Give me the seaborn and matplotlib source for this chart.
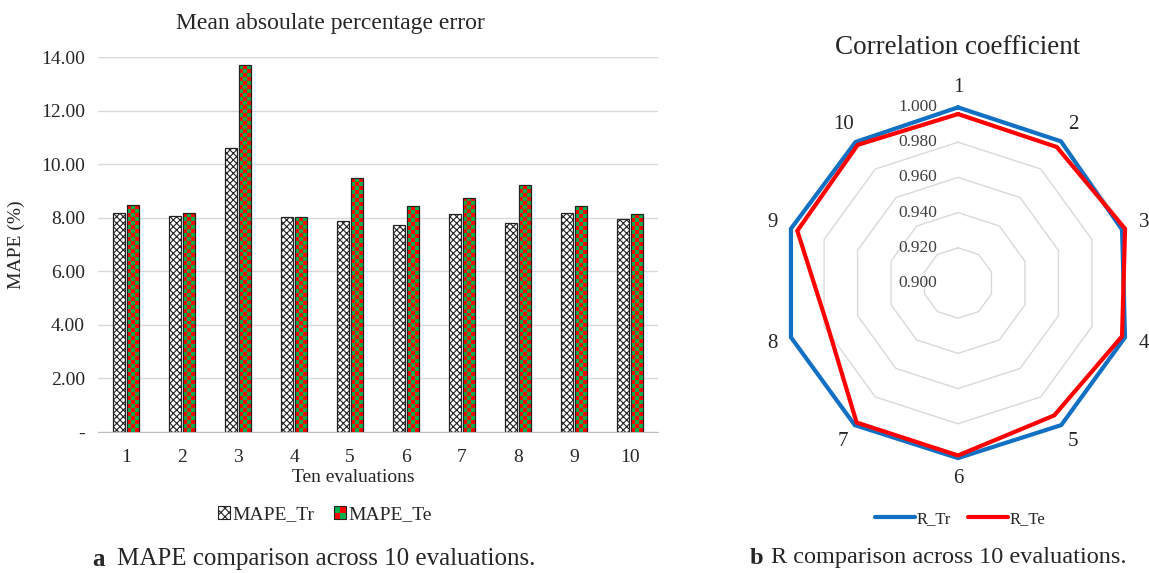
import numpy as np
import pandas as pd
import matplotlib
matplotlib.use("Agg")
import matplotlib.pyplot as plt
import seaborn as sns
from matplotlib.patches import Patch, Rectangle
from matplotlib.legend_handler import HandlerBase
from matplotlib.colors import ListedColormap
from matplotlib.transforms import offset_copy

# ---------------- data ----------------
evaluations = [str(i) for i in range(1, 11)]
mape_tr = [8.16, 8.07, 10.59, 8.03, 7.88, 7.72, 8.13, 7.82, 8.17, 7.95]
mape_te = [8.47, 8.16, 13.69, 8.02, 9.47, 8.43, 8.74, 9.21, 8.43, 8.13]
mape_ticks = [0, 2, 4, 6, 8, 10, 12, 14]

r_tr = [0.9998, 0.9995, 0.9980, 0.9998, 0.9998, 0.9995, 0.9998, 0.9998, 0.9998, 0.9990]
r_te = [0.9960, 0.9955, 0.9998, 0.9980, 0.9930, 0.9980, 0.9980, 0.9780, 0.9960, 0.9970]
r_levels = [0.900, 0.920, 0.940, 0.960, 0.980, 1.000]

# ---------------- style ----------------
sns.set_style("white")
plt.rcParams["font.family"] = ["Liberation Serif", "DejaVu Serif"]
plt.rcParams["hatch.linewidth"] = 0.8
TXT = "#262626"
RED, GREEN = "#FF0000", "#00B050"
BLUE = "#1170C4"

W, H = 1149, 573
fig = plt.figure(figsize=(W / 100, H / 100), dpi=100)

# ---------------- (a) bar chart ----------------
ax = fig.add_axes([98 / W, 1 - 432 / H, 560 / W, 375 / H])
df = pd.DataFrame({
    "Evaluation": evaluations * 2,
    "MAPE": mape_tr + mape_te,
    "Series": ["MAPE_Tr"] * len(mape_tr) + ["MAPE_Te"] * len(mape_te),
})
sns.barplot(data=df, x="Evaluation", y="MAPE", hue="Series",
            palette={"MAPE_Tr": "white", "MAPE_Te": GREEN}, saturation=1,
            width=0.5, gap=0.16, edgecolor="#222222", linewidth=0.9,
            legend=False, ax=ax)
ax.set_xlim(-0.5, len(evaluations) - 0.5)
ax.set_ylim(0, 14)
ax.set_yticks(mape_ticks)
ax.set_yticklabels(["-" if t == 0 else f"{t:.2f}" for t in mape_ticks])
ax.yaxis.grid(True, color="#D9D9D9", lw=1)
ax.set_axisbelow(True)
for s in ["left", "top", "right"]:
    ax.spines[s].set_visible(False)
ax.spines["bottom"].set_color("#BFBFBF")
ax.tick_params(axis="both", length=0, labelsize=14, colors=TXT)
ax.tick_params(axis="x", pad=12)
ax.tick_params(axis="y", pad=9.5)

for p in ax.containers[0]:
    p.set_hatch("xxxxx")

# checkerboard fill for the test bars
cmap = ListedColormap([RED, GREEN])
px_y = ax.bbox.height / 14.0
px_x = ax.bbox.width / len(evaluations)
for p in ax.containers[1]:
    x0, w, h = p.get_x(), p.get_width(), p.get_height()
    nx = max(1, int(round(w * px_x / 4.0)))
    ny = max(1, int(round(h * px_y / 4.0)))
    board = np.indices((ny, nx)).sum(axis=0) % 2
    im = ax.imshow(board, extent=(x0, x0 + w, 0, h), origin="lower", cmap=cmap,
                   aspect="auto", interpolation="nearest", zorder=p.get_zorder() - 0.05)
    im.set_clip_path(p)
    p.set_facecolor("none")
ax.set_aspect("auto")
ax.set_xlim(-0.5, len(evaluations) - 0.5)
ax.set_ylim(0, 14)

ax.set_xlabel("Ten evaluations", fontsize=14, color=TXT)
ax.xaxis.set_label_coords((353 - 98) / 560, -0.098)
ax.set_ylabel("MAPE (%)", fontsize=14, color=TXT)
ax.yaxis.set_label_coords(-0.130, 0.5)

fig.text(330 / W, 1 - 23 / H, "Mean absoulate percentage error", fontsize=17,
         ha="center", va="center", color=TXT)


class CheckerHandler(HandlerBase):
    def create_artists(self, legend, orig_handle, xdescent, ydescent, width, height, fontsize, trans):
        arts = []
        n = 2
        cw, ch = width / n, height / n
        for i in range(n):
            for j in range(n):
                arts.append(Rectangle((-xdescent + i * cw, -ydescent + j * ch), cw, ch,
                                      facecolor=RED if (i + j) % 2 == 0 else GREEN,
                                      lw=0, transform=trans))
        arts.append(Rectangle((-xdescent, -ydescent), width, height, facecolor="none",
                              edgecolor="#222222", lw=0.8, transform=trans))
        return arts


h_tr = Patch(facecolor="white", edgecolor="#222222", hatch="xxxx", lw=0.8)
h_te = Patch(facecolor=GREEN)
fig.legend([h_tr, h_te], ["MAPE_Tr", "MAPE_Te"], loc="center",
           bbox_to_anchor=(325 / W, 1 - 515 / H), ncol=2, frameon=False,
           fontsize=14, handlelength=0.6, handleheight=0.6, handletextpad=0.15,
           columnspacing=1.0, labelcolor=TXT, handler_map={h_te: CheckerHandler()})

fig.text(92 / W, 1 - 559 / H, "a", fontsize=18, fontweight="bold", ha="left", va="center")
fig.text(117 / W, 1 - 559 / H, "MAPE comparison across 10 evaluations.", fontsize=18,
         ha="left", va="center")

# ---------------- (b) radar chart ----------------
cx, cy, R = 958, 283, 176
rax = fig.add_axes([(cx - R) / W, (H - cy - R) / H, 2 * R / W, 2 * R / H], projection="polar")
rax.set_theta_zero_location("N")
rax.set_theta_direction(-1)
rax.grid(False)
rax.spines["polar"].set_visible(False)
rax.patch.set_alpha(0)

n = len(evaluations)
theta = np.arange(n) * 2 * np.pi / n
theta_closed = np.r_[theta, 2 * np.pi]
for lv in r_levels[1:]:
    rax.plot(theta_closed, [lv] * (n + 1), color="#D9D9D9", lw=1, zorder=1)

rdf = pd.DataFrame({
    "theta": np.r_[theta_closed, theta_closed],
    "R": r_tr + [r_tr[0]] + r_te + [r_te[0]],
    "Series": ["R_Tr"] * (n + 1) + ["R_Te"] * (n + 1),
})
sns.lineplot(data=rdf, x="theta", y="R", hue="Series", sort=False, estimator=None,
             palette={"R_Tr": BLUE, "R_Te": RED}, lw=3, legend=False, ax=rax)
data_lines = rax.lines[-2:]
for ln in data_lines:
    ln.set_clip_on(False)
    ln.set_solid_joinstyle("miter")

rax.set_ylim(r_levels[0], r_levels[-1])
rax.set_yticks([])
rax.set_xticks(theta)
rax.set_xticklabels(evaluations, fontsize=15, color=TXT)
rax.tick_params(axis="x", pad=7, length=0)
rax.set_xlabel("")
rax.set_ylabel("")

lbl_tr = offset_copy(rax.transData, fig=fig, x=-15, y=0, units="points")
for lv in r_levels:
    rax.text(0, lv, f"{lv:.3f}", transform=lbl_tr, ha="right", va="center",
             fontsize=12.5, color="#404040")

fig.text(cx / W, 1 - 47 / H, "Correlation coefficient", fontsize=19.5,
         ha="center", va="center", color=TXT)
fig.legend(data_lines, ["R_Tr", "R_Te"], loc="center",
           bbox_to_anchor=(960 / W, 1 - 519 / H), ncol=2, frameon=False,
           fontsize=12, handlelength=2.4, handletextpad=0.1, columnspacing=1.0,
           labelcolor=TXT)

fig.text(750 / W, 1 - 558 / H, "b", fontsize=17.5, fontweight="bold", ha="left", va="center")
fig.text(771 / W, 1 - 558 / H, "R comparison across 10 evaluations.", fontsize=17.5,
         ha="left", va="center")

fig.savefig("out.png", dpi=100)
